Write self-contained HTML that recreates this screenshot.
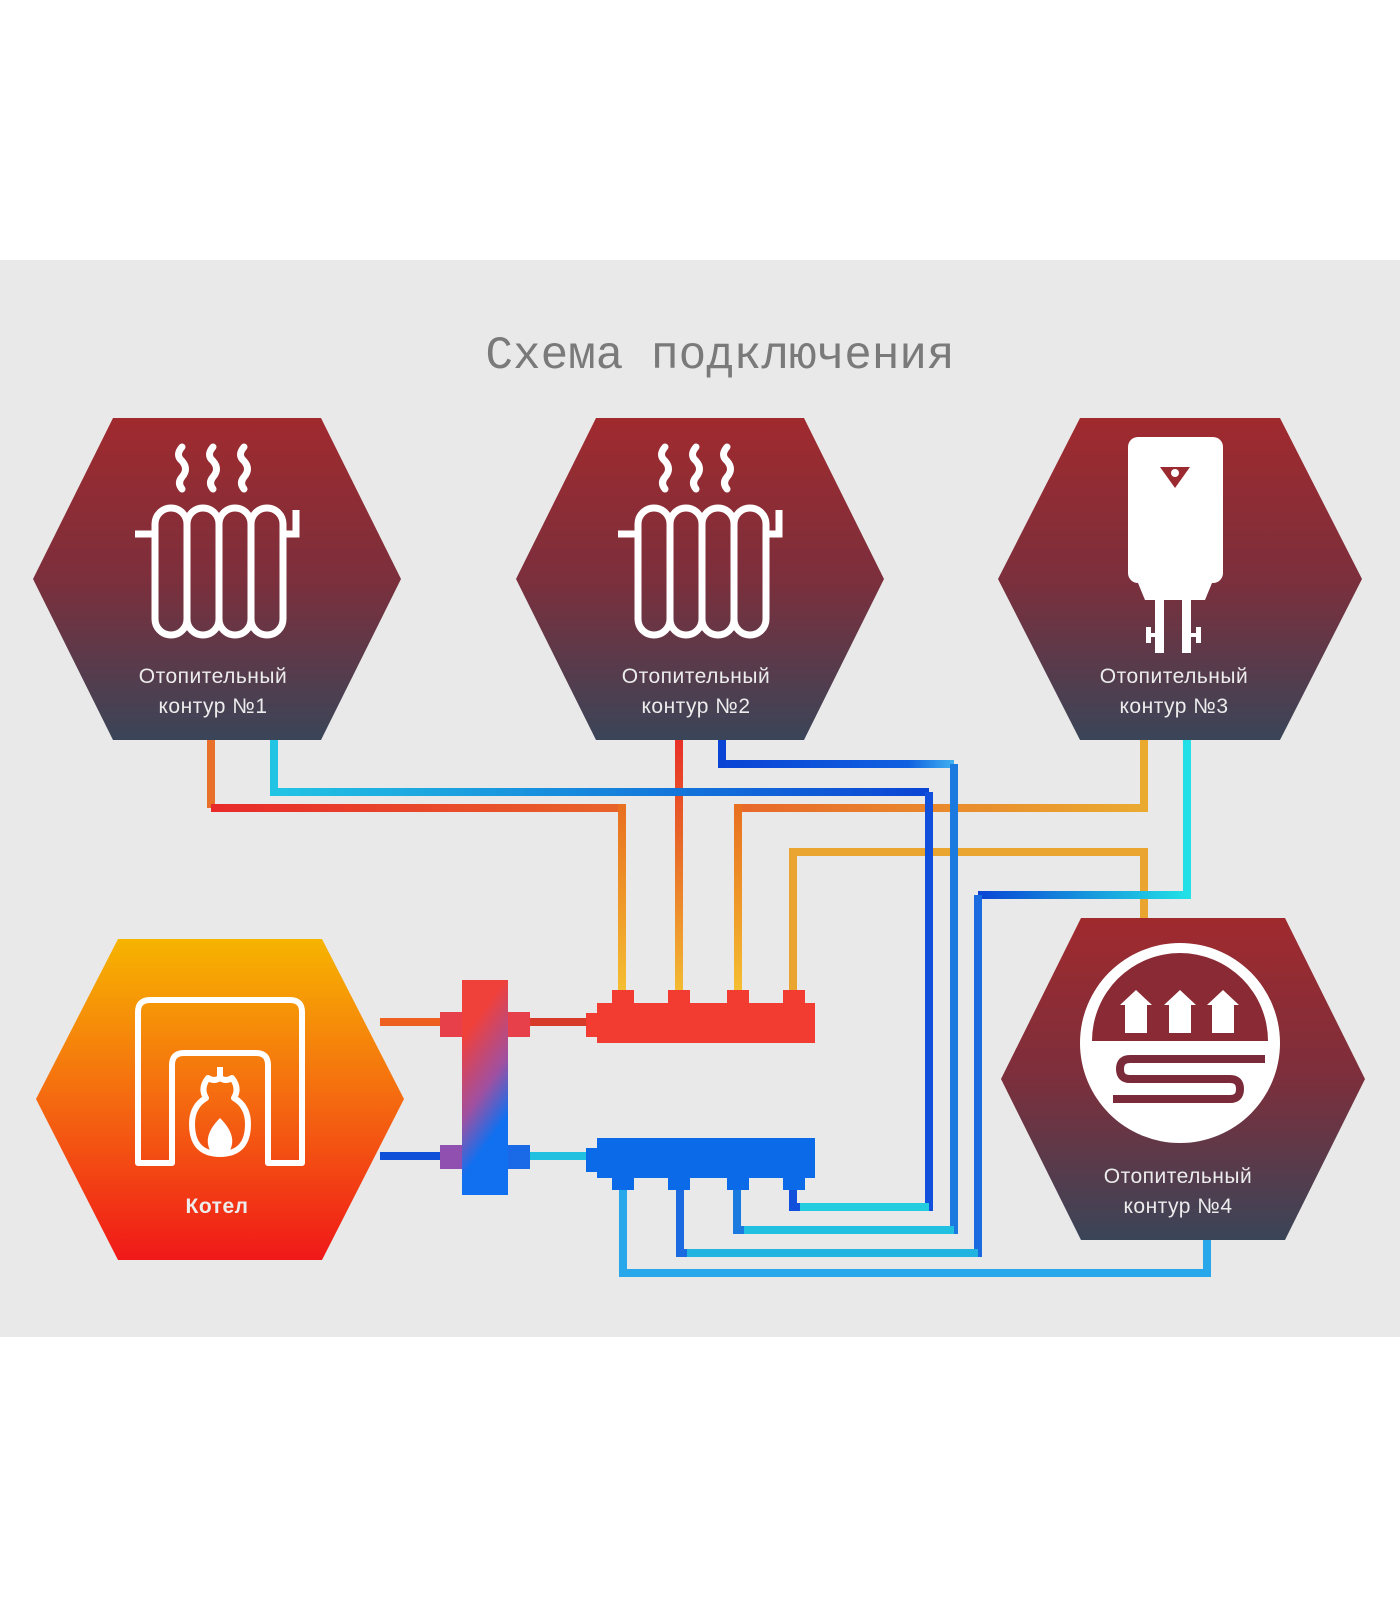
<!DOCTYPE html>
<html><head><meta charset="utf-8"><style>html,body{margin:0;padding:0;background:#fff}svg{display:block}</style></head>
<body>
<svg width="1400" height="1600" viewBox="0 0 1400 1600" xmlns="http://www.w3.org/2000/svg">
<defs>
<linearGradient id="hx" x1="0" y1="0" x2="0" y2="1"><stop offset="0" stop-color="#a02a2e"/><stop offset="0.5" stop-color="#7c2f3c"/><stop offset="1" stop-color="#3a4558"/></linearGradient>
<linearGradient id="bo" x1="0" y1="0" x2="0" y2="1"><stop offset="0" stop-color="#f6b400"/><stop offset="0.5" stop-color="#f56a10"/><stop offset="1" stop-color="#f01818"/></linearGradient>
<linearGradient id="sep" x1="0" y1="0" x2="0.3" y2="1"><stop offset="0.25" stop-color="#f0403a"/><stop offset="0.6" stop-color="#a050a0"/><stop offset="0.85" stop-color="#1070f0"/></linearGradient>
<linearGradient id="hv" gradientUnits="userSpaceOnUse" x1="0" y1="808" x2="0" y2="1000"><stop offset="0" stop-color="#e87020"/><stop offset="1" stop-color="#f5c232"/></linearGradient>
<linearGradient id="h1h" gradientUnits="userSpaceOnUse" x1="211" y1="0" x2="622" y2="0"><stop offset="0" stop-color="#e82a2a"/><stop offset="1" stop-color="#e8642a"/></linearGradient>
<linearGradient id="h2v" gradientUnits="userSpaceOnUse" x1="0" y1="740" x2="0" y2="1005"><stop offset="0" stop-color="#e83028"/><stop offset="0.4" stop-color="#e86a28"/><stop offset="1" stop-color="#f5c232"/></linearGradient>
<linearGradient id="h3h" gradientUnits="userSpaceOnUse" x1="738" y1="0" x2="1144" y2="0"><stop offset="0" stop-color="#e8682a"/><stop offset="1" stop-color="#eaaa30"/></linearGradient>
<linearGradient id="c1" gradientUnits="userSpaceOnUse" x1="274" y1="0" x2="929" y2="0"><stop offset="0" stop-color="#22c4e4"/><stop offset="1" stop-color="#0a44d4"/></linearGradient>
<linearGradient id="c2" gradientUnits="userSpaceOnUse" x1="722" y1="0" x2="954" y2="0"><stop offset="0" stop-color="#0a44d4"/><stop offset="0.8" stop-color="#1060e0"/><stop offset="1" stop-color="#40b0f0"/></linearGradient>
<linearGradient id="c3" gradientUnits="userSpaceOnUse" x1="978" y1="0" x2="1187" y2="0"><stop offset="0" stop-color="#0a44d4"/><stop offset="1" stop-color="#22e0e6"/></linearGradient>
</defs>
<rect width="1400" height="1600" fill="#fff"/>
<rect x="0" y="260" width="1400" height="1077" fill="#e9e9e9"/>
<text x="720" y="368" text-anchor="middle" font-family="Liberation Mono, monospace" font-size="46" fill="#7a7a7a">Схема подключения</text>

<g fill="none" stroke-width="8" stroke-linejoin="miter" stroke-linecap="butt">
<path d="M211 740 V808" stroke="#e8702a"/>
<path d="M211 808 H622" stroke="url(#h1h)"/>
<path d="M622 804 V1000" stroke="url(#hv)"/>
<path d="M679 740 V1000" stroke="url(#h2v)"/>
<path d="M1144 740 V808 H738" stroke="url(#h3h)"/>
<path d="M738 804 V1000" stroke="url(#hv)"/>
<path d="M1144 918 V852 H793 V1000" stroke="#eaa430"/>
<path d="M274 740 V792 H929" stroke="url(#c1)"/>
<path d="M722 740 V764 H954" stroke="url(#c2)"/>
<path d="M1187 740 V895 H978" stroke="url(#c3)"/>
<path d="M929 792 V1207 H793 V1185" stroke="#1050dc"/>
<path d="M954 764 V1230 H737 V1185" stroke="#1a7ae0"/>
<path d="M978 895 V1253 H680 V1185" stroke="#1a6ae0"/>
<path d="M929 1207 H800" stroke="#24cce0"/>
<path d="M954 1230 H744" stroke="#22c0e0"/>
<path d="M978 1253 H687" stroke="#22b4e0"/>
<path d="M623 1185 V1273 H1207 V1240" stroke="#28a8ea"/>
<path d="M380 1022 H445" stroke="#ee6020"/>
<path d="M525 1022 H595" stroke="#d83a2a"/>
<path d="M380 1156 H445" stroke="#1050d8"/>
<path d="M525 1156 H595" stroke="#22c0e0"/>
</g>

<rect x="440" y="1012" width="90" height="25" fill="#e8404a"/>
<rect x="440" y="1145" width="90" height="24" fill="#7060c0"/>
<rect x="462" y="980" width="46" height="215" fill="url(#sep)"/>
<rect x="440" y="1145" width="22" height="24" fill="#9050b0"/>
<rect x="508" y="1145" width="22" height="24" fill="#1a6ae8"/>

<g fill="#f23c32">
<rect x="597" y="1003" width="218" height="40"/>
<rect x="586" y="1013" width="14" height="24"/>
<rect x="612" y="990" width="22" height="14"/><rect x="668" y="990" width="22" height="14"/><rect x="727" y="990" width="22" height="14"/><rect x="783" y="990" width="22" height="14"/>
</g>
<g fill="#0a6ae8">
<rect x="597" y="1138" width="218" height="40"/>
<rect x="586" y="1148" width="14" height="24"/>
<rect x="612" y="1177" width="22" height="13"/><rect x="668" y="1177" width="22" height="13"/><rect x="727" y="1177" width="22" height="13"/><rect x="783" y="1177" width="22" height="13"/>
</g>

<polygon points="113,418 321,418 401,579 321,740 113,740 33,579" fill="url(#hx)"/>
<polygon points="596,418 804,418 884,579 804,740 596,740 516,579" fill="url(#hx)"/>
<polygon points="1080,418 1280,418 1362,579 1280,740 1080,740 998,579" fill="url(#hx)"/>
<polygon points="1081,918 1285,918 1365,1079 1285,1240 1081,1240 1001,1079" fill="url(#hx)"/>
<polygon points="118,939 322,939 404,1099 322,1260 118,1260 36,1099" fill="url(#bo)"/>

<g id="rad" fill="none" stroke="#fff" stroke-width="7" stroke-linecap="round">
<path d="M182 447 q-7 8 0 14 q7 8 0 16 q-5 6 0 12"/>
<path d="M213 447 q-7 8 0 14 q7 8 0 16 q-5 6 0 12"/>
<path d="M244 447 q-7 8 0 14 q7 8 0 16 q-5 6 0 12"/>
<rect x="155" y="508" width="32" height="127" rx="16"/>
<rect x="187" y="508" width="32" height="127" rx="16"/>
<rect x="219" y="508" width="32" height="127" rx="16"/>
<rect x="251" y="508" width="32" height="127" rx="16"/>
<path d="M135 534 H155 M283 534 H296 V510" stroke-linecap="butt"/>
</g>
<use href="#rad" x="483"/>

<rect x="1128" y="437" width="95" height="146" rx="10" fill="#fff"/>
<path d="M1160 467 L1190 467 L1175 488 Z" fill="#9a2a30"/>
<circle cx="1175" cy="473" r="4" fill="#fff"/>
<path d="M1138 583 H1212 L1205 600 H1145 Z" fill="#fff"/>
<g fill="#fff">
<rect x="1155" y="598" width="9" height="55"/><rect x="1182" y="598" width="9" height="55"/>
<rect x="1146" y="627" width="5" height="16"/><rect x="1146" y="633" width="12" height="4"/>
<rect x="1196" y="627" width="5" height="16"/><rect x="1188" y="633" width="12" height="4"/>
</g>

<circle cx="1180" cy="1043" r="100" fill="#fff"/>
<path d="M1092 1041 A88 88 0 0 1 1268 1041 Z" fill="#8a2a34"/>
<g fill="#fff">
<path d="M1125 1033 V1005 H1120 L1136 990 L1152 1005 H1147 V1033 Z"/>
<path d="M1169 1033 V1005 H1164 L1180 990 L1196 1005 H1191 V1033 Z"/>
<path d="M1212 1033 V1005 H1207 L1223 990 L1239 1005 H1234 V1033 Z"/>
</g>
<path d="M1265 1059 H1130 q-10 0 -10 10 q0 10 10 10 H1230 q10 0 10 10 q0 10 -10 10 H1113" fill="none" stroke="#7a2a38" stroke-width="8"/>

<path d="M138 1163 V1012 q0 -12 12 -12 H290 q12 0 12 12 V1163 H268 V1065 q0 -12 -12 -12 H184 q-12 0 -12 12 V1163 Z" fill="none" stroke="#fff" stroke-width="6" stroke-linejoin="round"/>
<path d="M220 1067 V1078 M220 1078 q-6 4 -12 0 q-8 10 -2 20 q-14 8 -14 26 q0 30 28 30 q28 0 28 -30 q0 -18 -14 -26 q6 -10 -2 -20 q-6 4 -12 0" fill="none" stroke="#fff" stroke-width="6" stroke-linejoin="round"/>
<path d="M220 1118 q14 14 12 26 q-2 12 -12 12 q-10 0 -12 -12 q-2 -12 12 -26 Z" fill="#fff"/>

<g font-family="Liberation Sans, sans-serif" font-size="21" fill="#ececec" text-anchor="middle" letter-spacing="0.5">
<text x="213" y="683">Отопительный</text><text x="213" y="713">контур  №1</text>
<text x="696" y="683">Отопительный</text><text x="696" y="713">контур  №2</text>
<text x="1174" y="683">Отопительный</text><text x="1174" y="713">контур  №3</text>
<text x="1178" y="1183">Отопительный</text><text x="1178" y="1213">контур  №4</text>
<text x="217" y="1213" font-weight="bold">Котел</text>
</g>
</svg>
</body></html>
